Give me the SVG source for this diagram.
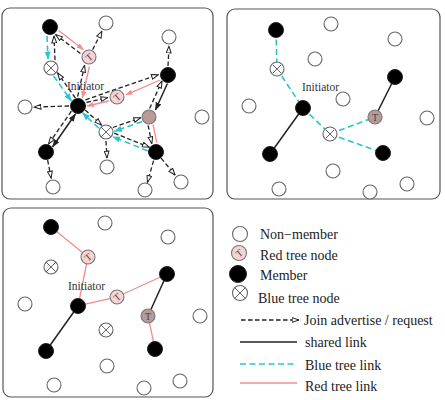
<svg xmlns="http://www.w3.org/2000/svg" width="445" height="400" viewBox="0 0 445 400">
<defs>
  <marker id="a-open" viewBox="0 0 8 6" refX="7.5" refY="3" markerWidth="8" markerHeight="6" markerUnits="userSpaceOnUse" orient="auto">
    <path d="M0.6,0.6 L7.4,3 L0.6,5.4 Z" fill="#fff" stroke="#222" stroke-width="1"/>
  </marker>
  <marker id="a-black" viewBox="0 0 8 6" refX="7.5" refY="3" markerWidth="8" markerHeight="6" markerUnits="userSpaceOnUse" orient="auto-start-reverse">
    <path d="M0,0 L8,3 L0,6 Z" fill="#222"/>
  </marker>
  <marker id="a-cyan" viewBox="0 0 8 6" refX="7.5" refY="3" markerWidth="8" markerHeight="6" markerUnits="userSpaceOnUse" orient="auto">
    <path d="M0,0 L8,3 L0,6 Z" fill="#29c5d0"/>
  </marker>
  <marker id="a-red" viewBox="0 0 8 6" refX="7.5" refY="3" markerWidth="7" markerHeight="5.5" markerUnits="userSpaceOnUse" orient="auto">
    <path d="M0,0 L8,3 L0,6 Z" fill="#f28c8e"/>
  </marker>
</defs>
<style>
  .frame{fill:#fff;stroke:#555;stroke-width:1.2}
  .nm{fill:#fff;stroke:#666;stroke-width:1.1}
  .mb{fill:#000;stroke:#222;stroke-width:1}
  .rt{fill:#f7d3d3;stroke:#777;stroke-width:1.1}
  .bt{fill:#b99a9b;stroke:#777;stroke-width:1.1}
  .bx{fill:#fff;stroke:#666;stroke-width:1.1}
  .xl{stroke:#666;stroke-width:1}
  .tg{font-family:"Liberation Serif","Times New Roman",serif;font-size:10px;fill:#444;text-anchor:middle}
  .lbl{font-family:"Liberation Serif","Times New Roman",serif;font-size:11.5px;fill:#333}
  .leg{font-family:"Liberation Serif","Times New Roman",serif;font-size:14px;fill:#222}
  .adv{fill:none;stroke:#222;stroke-width:1.3;stroke-dasharray:4.5 2.5;marker-end:url(#a-open)}
  .shr{fill:none;stroke:#222;stroke-width:1.5}
  .blu{fill:none;stroke:#29c5d0;stroke-width:1.6;stroke-dasharray:6 3.5}
  .red{fill:none;stroke:#f28c8e;stroke-width:1.3}
  .ca{marker-end:url(#a-cyan)}
  .ra{marker-end:url(#a-red)}
</style>

<rect width="445" height="400" fill="#fff"/>

<!-- panel frames -->
<rect class="frame" x="2" y="8" width="211" height="191" rx="8"/>
<rect class="frame" x="227" y="9" width="213" height="190" rx="8"/>
<rect class="frame" x="3" y="208" width="210" height="189" rx="8"/>

<!-- panel 1: join advertisement / request exchange -->
<g id="p1-connectors">
  <path class="blu ca" d="M47,36 L48,59"/>
  <path class="adv" d="M55,60 L54,36"/>
  <path class="red ra" d="M58.6,30.5 L83.4,49.5"/>
  <path class="adv" d="M80.4,53.5 L55.6,34.5"/>
  <path class="adv" d="M92.6,49.8 L102,31"/>
  <path class="adv" d="M77.6,96.7 L84.6,65.3"/>
  <path class="red ra" d="M89.4,66.3 L82.4,97.7"/>
  <path class="blu ca" d="M53.6,76 L71.4,101"/>
  <path class="adv" d="M75.4,98 L57.6,73"/>
  <path class="adv" d="M69,106 L34,107"/>
  <path class="adv" d="M86.5,102.5 L107.9,97.5"/>
  <path class="red ra" d="M108.7,101 L87.2,106"/>
  <path class="adv" d="M85.4,99.8 L158.4,74.6"/>
  <path class="red ra" d="M160.3,80 L125.9,94.8"/>
  <path class="adv" d="M168,66 L169,46"/>
  <path class="shr" marker-end="url(#a-black)" d="M167.4,83.5 L155.4,110"/>
  <path class="adv" d="M149.6,108.5 L162,81"/>
  <path class="adv" d="M148.1,125.3 L151.8,143.7"/>
  <path class="red" d="M153,124.3 L156.7,142.7"/>
  <path class="adv" d="M112.9,127.5 L140.7,117.7"/>
  <path class="blu ca" d="M142.1,121.5 L114.3,131.3"/>
  <path class="adv" d="M114.2,133.1 L149.3,147.2"/>
  <path class="blu ca" d="M147.8,150.9 L112.7,136.8"/>
  <path class="adv" d="M85.2,110 L101.5,125.1"/>
  <path class="blu ca" d="M98.7,128.1 L82.5,112.9"/>
  <path class="adv" d="M106,141 L107,158"/>
  <path class="adv" d="M153.6,160.6 L147.4,182.4"/>
  <path class="adv" d="M161.1,158.2 L175.2,175.1"/>
  <path class="adv" d="M71.4,111.2 L48.5,144"/>
  <path class="shr" marker-start="url(#a-black)" marker-end="url(#a-black)" d="M75.5,114 L52.6,146.8"/>
  <path class="adv" d="M47.6,160 L51.2,178.2"/>
</g>

<g id="p1-nodes">
  <g id="p1-m1"><circle class="mb" cx="50" cy="27" r="7.5"/></g>
  <g id="p1-n1"><circle class="nm" cx="106" cy="23" r="7"/></g>
  <g id="p1-r1"><circle class="rt" cx="89" cy="57" r="7"/><text class="tg" transform="translate(89,57) rotate(-40)" y="3.5">T</text></g>
  <g id="p1-x1"><circle class="bx" cx="51" cy="68" r="7"/><path class="xl" d="M46,63 L56,73 M56,63 L46,73"/></g>
  <g id="p1-init"><circle class="mb" cx="78" cy="106" r="7.5"/></g>
  <g id="p1-n2"><circle class="nm" cx="25" cy="107" r="7"/></g>
  <g id="p1-r2"><circle class="rt" cx="117" cy="97" r="7"/><text class="tg" transform="translate(117,97) rotate(-40)" y="3.5">T</text></g>
  <g id="p1-m2"><circle class="mb" cx="168" cy="75" r="7.5"/></g>
  <g id="p1-n3"><circle class="nm" cx="169" cy="37" r="7"/></g>
  <g id="p1-b1"><circle class="bt" cx="149" cy="117" r="7"/></g>
  <g id="p1-n4"><circle class="nm" cx="202" cy="117" r="7"/></g>
  <g id="p1-x2"><circle class="bx" cx="106" cy="132" r="7"/><path class="xl" d="M101,127 L111,137 M111,127 L101,137"/></g>
  <g id="p1-m3"><circle class="mb" cx="46" cy="152" r="7.5"/></g>
  <g id="p1-m4"><circle class="mb" cx="156" cy="152" r="7.5"/></g>
  <g id="p1-n5"><circle class="nm" cx="53" cy="187" r="7"/></g>
  <g id="p1-n6"><circle class="nm" cx="107" cy="167" r="7"/></g>
  <g id="p1-n7"><circle class="nm" cx="145" cy="190" r="7"/></g>
  <g id="p1-n8"><circle class="nm" cx="181" cy="182" r="7"/></g>
  <text class="lbl" x="67" y="90">Initiator</text>
</g>

<!-- panel 2: blue tree -->
<g id="p2-connectors">
  <path class="blu" d="M276,30 L277,69 L303,108 L330,134 L375,117"/>
  <path class="blu" d="M330,134 L383,153"/>
  <path class="shr" d="M303,108 L270,154"/>
  <path class="shr" d="M375,117 L395,77"/>
</g>
<g id="p2-nodes">
  <g id="p2-m1"><circle class="mb" cx="276" cy="30" r="7.5"/></g>
  <g id="p2-n1"><circle class="nm" cx="331" cy="24" r="7"/></g>
  <g id="p2-n2"><circle class="nm" cx="395" cy="39" r="7"/></g>
  <g id="p2-n3"><circle class="nm" cx="315" cy="59" r="7"/></g>
  <g id="p2-x1"><circle class="bx" cx="277" cy="69" r="7"/><path class="xl" d="M273,65 L281,73 M281,65 L273,73"/></g>
  <g id="p2-m2"><circle class="mb" cx="395" cy="77" r="7.5"/></g>
  <g id="p2-n4"><circle class="nm" cx="343" cy="99" r="7"/></g>
  <g id="p2-n5"><circle class="nm" cx="249" cy="106" r="7"/></g>
  <g id="p2-init"><circle class="mb" cx="303" cy="108" r="7.5"/></g>
  <g id="p2-b1"><circle class="bt" cx="375" cy="117" r="7"/><text class="tg" x="375" y="120.5">T</text></g>
  <g id="p2-n6"><circle class="nm" cx="427" cy="118" r="7"/></g>
  <g id="p2-x2"><circle class="bx" cx="330" cy="134" r="7"/><path class="xl" d="M326,130 L334,138 M334,130 L326,138"/></g>
  <g id="p2-m3"><circle class="mb" cx="270" cy="154" r="7.5"/></g>
  <g id="p2-m4"><circle class="mb" cx="383" cy="153" r="7.5"/></g>
  <g id="p2-n7"><circle class="nm" cx="333" cy="171" r="7"/></g>
  <g id="p2-n8"><circle class="nm" cx="279" cy="189" r="7"/></g>
  <g id="p2-n9"><circle class="nm" cx="370" cy="192" r="7"/></g>
  <g id="p2-n10"><circle class="nm" cx="407" cy="184" r="7"/></g>
  <text class="lbl" x="302" y="91">Initiator</text>
</g>

<!-- panel 3: red tree -->
<g id="p3-connectors">
  <path class="red" d="M51,227 L88,257 L78,306 L117,297 L167,274"/>
  <path class="red" d="M148,316 L155,349"/>
  <path class="shr" d="M78,306 L46,351"/>
  <path class="shr" d="M148,316 L167,274"/>
</g>
<g id="p3-nodes">
  <g id="p3-m1"><circle class="mb" cx="51" cy="227" r="7.5"/></g>
  <g id="p3-n1"><circle class="nm" cx="105" cy="223" r="7"/></g>
  <g id="p3-n2"><circle class="nm" cx="168" cy="237" r="7"/></g>
  <g id="p3-r1"><circle class="rt" cx="88" cy="257" r="7"/><text class="tg" transform="translate(88,257) rotate(-40)" y="3.5">T</text></g>
  <g id="p3-x1"><circle class="bx" cx="51" cy="267" r="7"/><path class="xl" d="M46,262 L56,272 M56,262 L46,272"/></g>
  <g id="p3-m2"><circle class="mb" cx="167" cy="274" r="7.5"/></g>
  <g id="p3-n3"><circle class="nm" cx="25" cy="304" r="7"/></g>
  <g id="p3-r2"><circle class="rt" cx="117" cy="297" r="7"/><text class="tg" transform="translate(117,297) rotate(-40)" y="3.5">T</text></g>
  <g id="p3-init"><circle class="mb" cx="78" cy="306" r="7.5"/></g>
  <g id="p3-b1"><circle class="bt" cx="148" cy="316" r="7"/><text class="tg" x="148" y="319.5">T</text></g>
  <g id="p3-n4"><circle class="nm" cx="200" cy="316" r="7"/></g>
  <g id="p3-x2"><circle class="bx" cx="106" cy="330" r="7"/><path class="xl" d="M101,325 L111,335 M111,325 L101,335"/></g>
  <g id="p3-m3"><circle class="mb" cx="46" cy="351" r="7.5"/></g>
  <g id="p3-m4"><circle class="mb" cx="155" cy="349" r="7.5"/></g>
  <g id="p3-n5"><circle class="nm" cx="107" cy="366" r="7"/></g>
  <g id="p3-n6"><circle class="nm" cx="54" cy="385" r="7"/></g>
  <g id="p3-n7"><circle class="nm" cx="144" cy="388" r="7"/></g>
  <g id="p3-n8"><circle class="nm" cx="180" cy="381" r="7"/></g>
  <text class="lbl" x="68" y="290">Initiator</text>
</g>

<!-- legend -->
<g id="legend">
  <g id="leg-nonmember"><circle class="nm" cx="240" cy="234" r="7.5"/><text class="leg" x="260" y="239">Non−member</text></g>
  <g id="leg-red-node"><circle class="rt" cx="239" cy="253" r="7.5"/><text class="tg" transform="translate(239,253) rotate(-40)" y="3.5">T</text><text class="leg" x="260" y="259.5">Red tree node</text></g>
  <g id="leg-member"><circle class="mb" cx="238" cy="274" r="8.5"/><text class="leg" x="260" y="280">Member</text></g>
  <g id="leg-blue-node"><circle class="bx" cx="240" cy="293" r="7.5" stroke-width="1.5"/><path class="xl" d="M234.7,287.7 L245.3,298.3 M245.3,287.7 L234.7,298.3" stroke-width="1.4"/><text class="leg" x="258" y="303">Blue tree node</text></g>
  <g id="leg-join"><path class="adv" d="M241,320 L299,320"/><text class="leg" x="304" y="324.5">Join advertise / request</text></g>
  <g id="leg-shared"><path class="shr" stroke-width="1.8" d="M240,342 L297,342"/><text class="leg" x="305" y="347">shared link</text></g>
  <g id="leg-blue"><path class="blu" d="M240,364 L297,364"/><text class="leg" x="305" y="369.5">Blue tree link</text></g>
  <g id="leg-red"><path class="red" d="M240,383 L297,383"/><text class="leg" x="305" y="391">Red tree link</text></g>
</g>
</svg>
